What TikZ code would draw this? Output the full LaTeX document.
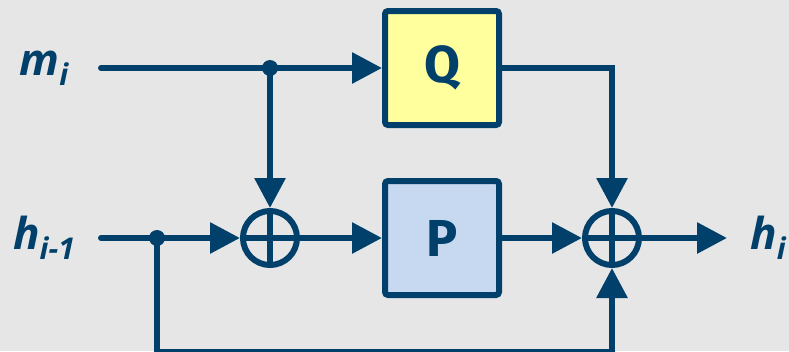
\documentclass[tikz,border=0pt]{standalone}
\usepackage{fontspec}
\setmainfont{Open Sans}
\newfontfamily\boxfont{Fira Sans}
\usetikzlibrary{arrows.meta}
\definecolor{ink}{HTML}{00406A}
\definecolor{qfill}{HTML}{FFFF9E}
\definecolor{pfill}{HTML}{C6D9F1}
\definecolor{paper}{HTML}{E6E6E6}
\newcommand{\subtxt}[1]{\raisebox{-0.22em}{\fontsize{30}{30}\selectfont #1}}
\begin{document}
\begin{tikzpicture}[x=1pt,y=-1pt,
  wire/.style={draw=ink,line width=6pt},
  flow/.style={wire,-{Triangle[length=30pt,width=30pt]}},
  blockbox/.style={draw=ink,line width=6pt,rounded corners=3pt,
    minimum width=114pt,minimum height=114pt,inner sep=0pt,
    font=\boxfont\bfseries\fontsize{52}{52}\selectfont,text=ink},
  summer/.style={draw=ink,line width=6pt,circle,minimum size=54pt,inner sep=0pt},
  junction/.style={fill=ink,circle,minimum size=16pt,inner sep=0pt},
  lbl/.style={text=ink,inner sep=0pt,font=\bfseries\itshape\fontsize{44}{44}\selectfont}]
  % canvas
  \fill[paper] (0,0) rectangle (789,351);
  \useasboundingbox (0,0) rectangle (789,351);

  % labels
  \node[lbl] (mi) at (44,68) {m\subtxt{i}};
  \node[lbl] (hin) at (44,238) {h\subtxt{i-1}};
  \node[lbl] (hout) at (768,238) {h\subtxt{i}};

  % blocks
  \node[blockbox,fill=qfill] (Q) at (442,68) {Q};
  \node[blockbox,fill=pfill] (P) at (442,238) {P};

  % summing junctions
  \node[summer] (s1) at (270,238) {};
  \node[summer] (s2) at (612,238) {};
  \foreach \s in {s1,s2} {
    \draw[wire] (\s.north) -- (\s.south);
    \draw[wire] (\s.west) -- (\s.east);
  }

  % branch points and line ends
  \coordinate (mstart) at (101,68);
  \coordinate (hstart) at (101,238);
  \node[junction] (jm) at (270,68) {};
  \node[junction] (jh) at (157,238) {};
  \coordinate (fb) at (157,352);
  \coordinate (out) at (727,238);

  % connections
  \draw[flow,line cap=round] (mstart) -- (Q);
  \draw[flow] (jm.center) -- (s1);
  \draw[flow,line cap=round] (hstart) -- (s1);
  \draw[flow] (s1) -- (P);
  \draw[flow] (P) -- (s2);
  \draw[flow] (Q.east) -| (s2);
  \draw[flow] (s2) -- (out);
  \draw[flow] (jh.center) -- (fb) -| (s2);
\end{tikzpicture}
\end{document}
